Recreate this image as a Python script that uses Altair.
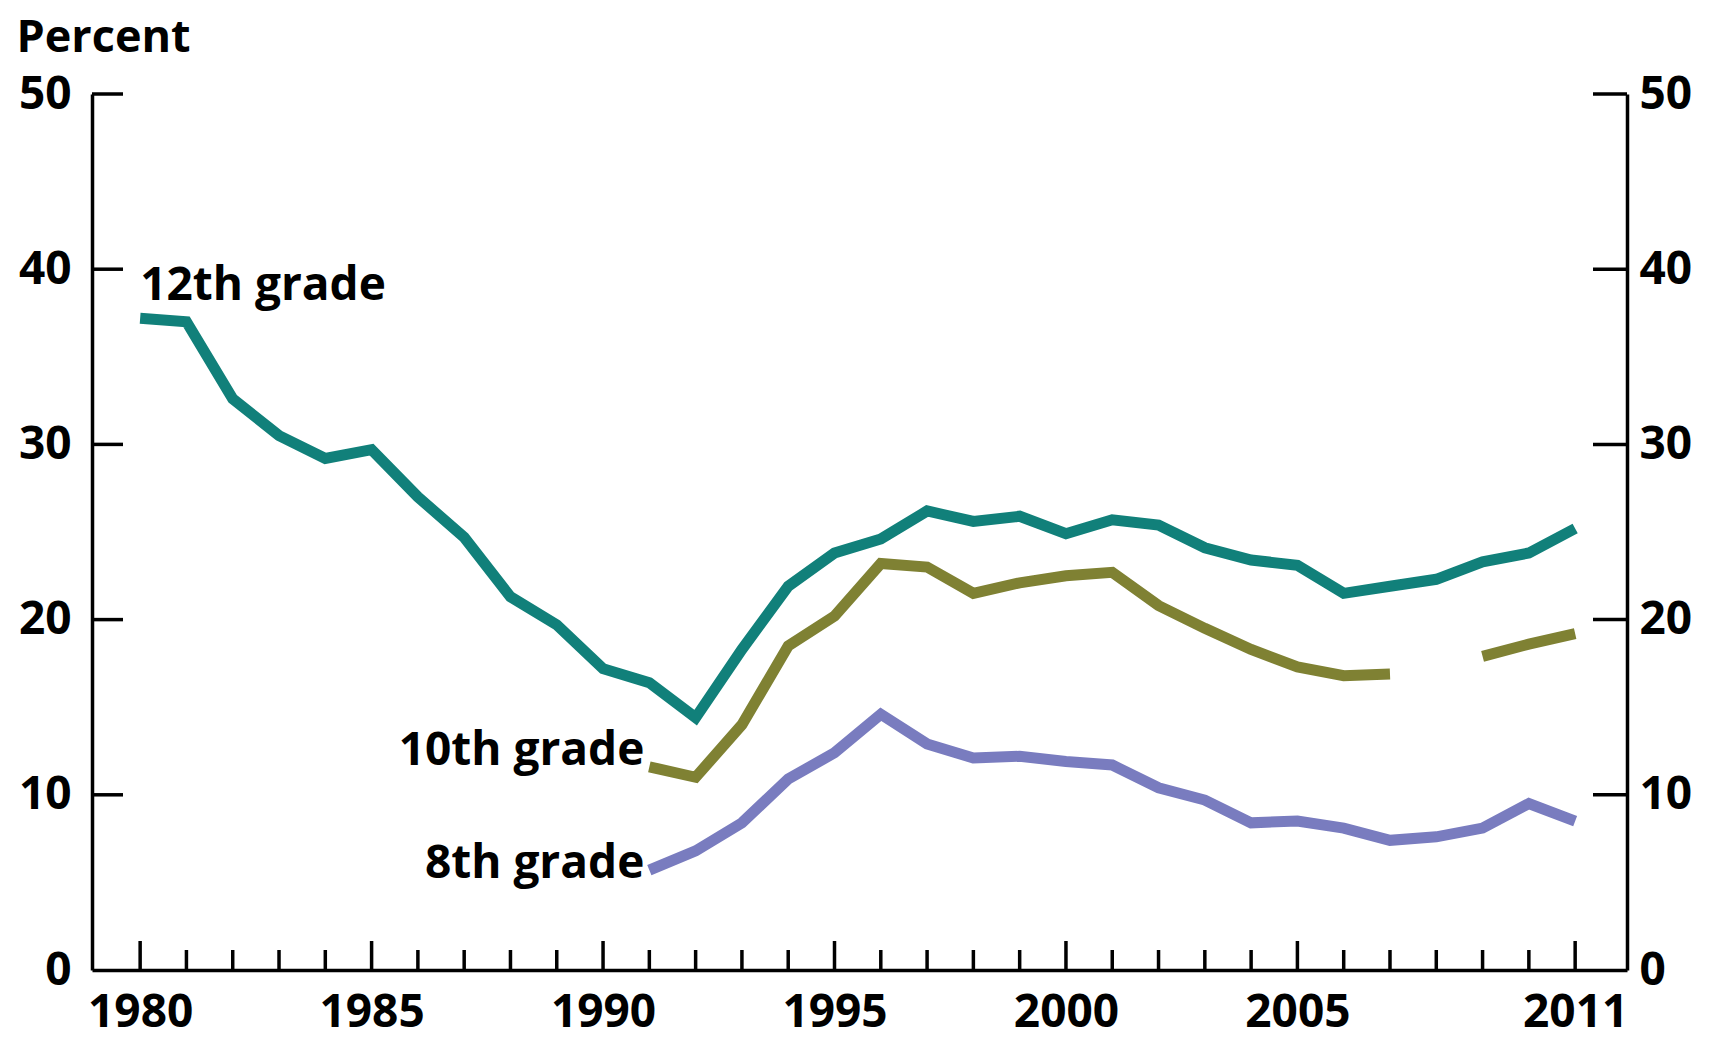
import altair as alt
import pandas as pd

# ---- data ----
years12 = list(range(1980, 2012))
twelfth = [37.2, 37.0, 32.6, 30.5, 29.2, 29.7, 27.0, 24.7, 21.3, 19.7,
           17.2, 16.4, 14.4, 18.3, 21.9, 23.8, 24.6, 26.2, 25.6, 25.9,
           24.9, 25.7, 25.4, 24.1, 23.4, 23.1, 21.5, 21.9, 22.3, 23.3,
           23.8, 25.2]
years_lower = list(range(1991, 2012))
tenth = [11.6, 11.0, 14.0, 18.5, 20.2, 23.2, 23.0, 21.5, 22.1, 22.5,
         22.7, 20.8, 19.5, 18.3, 17.3, 16.8, 16.9, None, 17.9, 18.6, 19.2]
eighth = [5.7, 6.8, 8.4, 10.9, 12.4, 14.6, 12.9, 12.1, 12.2, 11.9,
          11.7, 10.4, 9.7, 8.4, 8.5, 8.1, 7.4, 7.6, 8.1, 9.5, 8.5]
series_names = ["12th grade", "10th grade", "8th grade"]
series_colors = ["#11807A", "#7F8133", "#797CBF"]
y_ticks = [0, 10, 20, 30, 40, 50]
x_label_years = [1980, 1985, 1990, 1995, 2000, 2005, 2011]

# ---- long table ----
rows = []
for y, v in zip(years12, twelfth):
    rows.append({"year": y, "value": v, "series": "12th grade", "seg": "12a"})
seg = "10a"
for y, v in zip(years_lower, tenth):
    if v is None:
        seg = "10b"
        continue
    rows.append({"year": y, "value": v, "series": "10th grade", "seg": seg})
for y, v in zip(years_lower, eighth):
    rows.append({"year": y, "value": v, "series": "8th grade", "seg": "8a"})
df = pd.DataFrame(rows)

first_pts = df.groupby("series", sort=False).first().reset_index()
ticks_df = pd.DataFrame({"year": years12,
                         "major": [y in x_label_years for y in years12]})
ytick_df = pd.DataFrame({"v": [t for t in y_ticks if t > 0]})

W, H = 1535, 876
FONT = "Open Sans"
FS = 46
FW = "bold"

xscale = alt.Scale(domain=[1978.96, 2012.12], nice=False, zero=False)
yscale = alt.Scale(domain=[0, 50], nice=False, zero=True)

xaxis = alt.Axis(values=x_label_years, format="d", ticks=False, grid=False,
                 labelPadding=20, title=None, labelFlush=False)
x_enc = alt.X("year:Q", scale=xscale, axis=xaxis)

left_axis = alt.Axis(values=y_ticks, ticks=False, grid=False, labelPadding=21,
                     title="Percent", titleAngle=0, titleAlign="left",
                     titleBaseline="alphabetic", titleX=-76, titleY=-43,
                     titleFont=FONT, titleFontSize=FS - 1, titleFontWeight=FW,
                     titleColor="black")
right_axis = alt.Axis(values=y_ticks, ticks=False, grid=False, labelPadding=12,
                      title=None, orient="right")

lines = alt.Chart(df).mark_line(strokeWidth=11, strokeCap="butt", strokeJoin="miter").encode(
    x=x_enc,
    y=alt.Y("value:Q", scale=yscale, axis=left_axis),
    color=alt.Color("series:N", scale=alt.Scale(domain=series_names, range=series_colors), legend=None),
    detail="seg:N",
)

ytick_left = alt.Chart(ytick_df).mark_rule(color="black", strokeWidth=3.5).encode(
    y=alt.Y("v:Q", scale=yscale, axis=None),
    x=alt.value(0), x2=alt.value(31),
)
ytick_right = alt.Chart(ytick_df).mark_rule(color="black", strokeWidth=3.5).encode(
    y=alt.Y("v:Q", scale=yscale, axis=right_axis),
    x=alt.value(W - 34), x2=alt.value(W),
)
xtick_major = alt.Chart(ticks_df).transform_filter("datum.major").mark_rule(
    color="black", strokeWidth=3.5).encode(
    x=x_enc, y=alt.value(H), y2=alt.value(H - 29))
xtick_minor = alt.Chart(ticks_df).transform_filter("!datum.major").mark_rule(
    color="black", strokeWidth=3.5).encode(
    x=x_enc, y=alt.value(H), y2=alt.value(H - 20))

def label(name, align, dx, dy):
    return alt.Chart(first_pts).transform_filter(
        alt.datum.series == name).mark_text(
        align=align, baseline="alphabetic", dx=dx, dy=dy,
        font=FONT, fontSize=FS, fontWeight=FW, color="black").encode(
        x=x_enc, y=alt.Y("value:Q", scale=yscale, axis=None), text="series:N")

lab12 = label("12th grade", "left", 0, -18)
lab10 = label("10th grade", "right", -5, -2)
lab8 = label("8th grade", "right", -5, 8)

chart = alt.layer(
    lines, ytick_left, ytick_right, xtick_major, xtick_minor, lab12, lab10, lab8
).resolve_scale(y="independent").properties(
    width=W, height=H,
    autosize=alt.AutoSizeParams(type="none"),
    padding={"left": 84, "top": 86, "right": 76, "bottom": 72},
    background="white",
).configure_view(stroke=None).configure_axis(
    labelFont=FONT, labelFontSize=FS, labelFontWeight=FW, labelColor="black",
    domainColor="black", domainWidth=3.5,
)

chart.save("out.html", embed_options={"renderer": "svg", "actions": False})
